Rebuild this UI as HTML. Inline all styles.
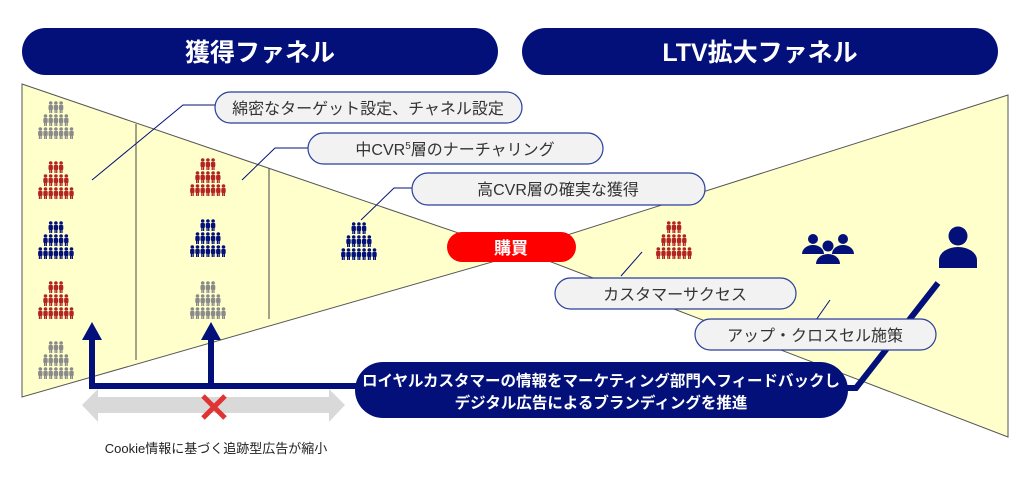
<!DOCTYPE html>
<html><head><meta charset="utf-8"><style>
body{margin:0;width:1032px;height:484px;background:#fff;overflow:hidden;font-family:"Liberation Sans","Noto Sans CJK JP",sans-serif;}
</style></head><body>
<svg width="1032" height="484" viewBox="0 0 1032 484" xmlns="http://www.w3.org/2000/svg" style="position:absolute;left:0;top:0">
<defs>
<g id="p"><circle cx="2.5" cy="2" r="1.8"/><rect x="0.3" y="4" width="4.4" height="5" rx="1"/><rect x="1" y="8" width="1.3" height="4"/><rect x="2.7" y="8" width="1.3" height="4"/></g>
<g id="pyr">
<use href="#p" x="-7.8"/><use href="#p" x="-2.6"/><use href="#p" x="2.6"/>
<use href="#p" x="-13" y="13"/><use href="#p" x="-7.8" y="13"/><use href="#p" x="-2.6" y="13"/><use href="#p" x="2.6" y="13"/><use href="#p" x="7.8" y="13"/>
<use href="#p" x="-18.2" y="26"/><use href="#p" x="-13" y="26"/><use href="#p" x="-7.8" y="26"/><use href="#p" x="-2.6" y="26"/><use href="#p" x="2.6" y="26"/><use href="#p" x="7.8" y="26"/><use href="#p" x="13" y="26"/>
</g>
</defs>
<rect x="22" y="28" width="476" height="47" rx="23.5" fill="#03107a"/>
<text x="260" y="61" fill="#fff" font-size="25" font-weight="bold" text-anchor="middle">獲得ファネル</text>
<rect x="522" y="28" width="476" height="47" rx="23.5" fill="#03107a"/>
<text x="760" y="61" fill="#fff" font-size="25" font-weight="bold" text-anchor="middle">LTV拡大ファネル</text>
<polygon points="22,84 520,254 22,397" fill="#ffffcc" stroke="#555" stroke-width="1"/>
<polygon points="1008,95 520,250 1008,437" fill="#ffffcc" stroke="#555" stroke-width="1"/>
<line x1="136" y1="124" x2="136" y2="360" stroke="#444"/>
<line x1="269" y1="168" x2="269" y2="319" stroke="#444"/>
<g fill="#8a8a8a"><use href="#pyr" x="56" y="101"/><use href="#pyr" x="56" y="341"/><use href="#pyr" x="208" y="281"/></g>
<g fill="#b22424"><use href="#pyr" x="56" y="161"/><use href="#pyr" x="56" y="281"/><use href="#pyr" x="208" y="158"/><use href="#pyr" x="674" y="221"/></g>
<g fill="#03107a"><use href="#pyr" x="56" y="221"/><use href="#pyr" x="208" y="219"/><use href="#pyr" x="359" y="222"/></g>
<g fill="#03107a">
<circle cx="813" cy="239" r="5"/><path d="M802,254 a11,9 0 0 1 22,0z"/>
<circle cx="843" cy="239" r="5"/><path d="M832,254 a11,9 0 0 1 22,0z"/>
<circle cx="828" cy="246" r="5.5"/><path d="M816,264 a12,10 0 0 1 24,0z"/>
<circle cx="958" cy="236" r="9.5"/><path d="M939,268 v-8 a19,13 0 0 1 38,0 v8z"/>
</g>
<g stroke="#03107a" stroke-width="1" fill="none">
<polyline points="92,180 183,105 215,105"/>
<polyline points="242,180 275,148 308,148"/>
<polyline points="361,220 394,188 412,188"/>
<line x1="621" y1="276" x2="642" y2="252"/>
<line x1="795" y1="350" x2="830" y2="300"/>
</g>
<polyline points="845,388 856,388 938,283" stroke="#03107a" stroke-width="6" fill="none"/>
<g fill="#f2f2f2" stroke="#2a3f9a" stroke-width="1.2">
<rect x="215" y="92" width="307" height="31" rx="15.5"/>
<rect x="308" y="133" width="295" height="31" rx="15.5"/>
<rect x="412" y="173" width="293" height="32" rx="16"/>
<rect x="555" y="278" width="241" height="31" rx="15.5"/>
<rect x="695" y="319" width="241" height="31" rx="15.5"/>
</g>
<g fill="#333" font-size="16" text-anchor="middle">
<text x="368" y="114">綿密なターゲット設定、チャネル設定</text>
<text x="455" y="155">中CVR<tspan font-size="10" dy="-6">5</tspan><tspan dy="6">層のナーチャリング</tspan></text>
<text x="558" y="195">高CVR層の確実な獲得</text>
<text x="675" y="300">カスタマーサクセス</text>
<text x="815" y="341">アップ・クロスセル施策</text>
</g>
<rect x="447" y="232" width="129" height="30" rx="15" fill="#ff0000"/>
<text x="511" y="254" fill="#fff" font-size="17" font-weight="bold" text-anchor="middle">購買</text>
<polygon points="82,405 98,389 98,397 329,397 329,389 345,405 329,422 329,413 98,413 98,422" fill="#d9d9d9"/>
<g stroke="#e03333" stroke-width="5"><line x1="203" y1="396" x2="225" y2="418"/><line x1="225" y1="396" x2="203" y2="418"/></g>
<text x="216" y="453" fill="#222" font-size="13" text-anchor="middle">Cookie情報に基づく追跡型広告が縮小</text>
<g stroke="#03107a" stroke-width="6" fill="none">
<polyline points="92,336 92,386 360,386"/>
<line x1="211" y1="336" x2="211" y2="386"/>
</g>
<g fill="#03107a">
<polygon points="92,322 102,340 82,340"/>
<polygon points="211,322 221,340 201,340"/>
</g>
<rect x="355" y="362" width="493" height="56" rx="28" fill="#03107a"/>
<g fill="#fff" font-size="15.5" font-weight="bold" text-anchor="middle">
<text x="601" y="386">ロイヤルカスタマーの情報をマーケティング部門へフィードバックし</text>
<text x="601" y="408">デジタル広告によるブランディングを推進</text>
</g>
</svg>
</body></html>
